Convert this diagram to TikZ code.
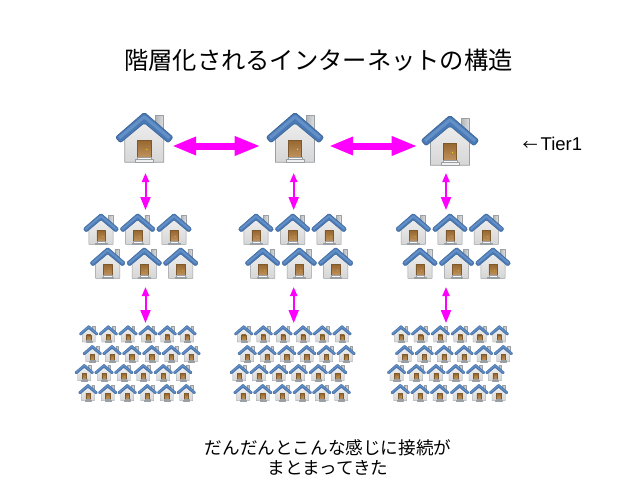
\documentclass[tikz,border=0pt]{standalone}
\usepackage{fontspec}
\setmainfont{Liberation Sans}
\newfontfamily\jpfont{Noto Sans CJK JP}
\usetikzlibrary{arrows.meta}
\definecolor{roofblue}{HTML}{4A7AB6}
\definecolor{roofdark}{HTML}{41699C}
\definecolor{rooflight}{HTML}{6490C8}
\definecolor{wallgray}{HTML}{9A9FA3}
\definecolor{doorbrown}{HTML}{B27A38}
\definecolor{doordark}{HTML}{7D5A2E}
\definecolor{linkpink}{HTML}{FF00FF}
\tikzset{
	house/.pic={
		\begin{scope}[scale=#1,line width=#1*0.8pt,line join=round]
			\draw[draw=wallgray,left color=wallgray!75,right color=wallgray!35] (11.5,22) -- (11.5,3) -- (19,3) -- (19,22) -- cycle;
			\draw[draw=wallgray,top color=black!6,bottom color=black!16] (-19.5,50) -- (-19.5,24) -- (0,6) -- (19.5,24) -- (19.5,50) -- cycle;
			\draw[draw=doordark,top color=doorbrown!85!black,bottom color=doorbrown!80!white] (-6.5,46) rectangle (6.8,28);
			\fill[yellow!70!orange] (2.5,37) circle (0.7);
			\draw[draw=wallgray,fill=black!6] (-9,50) rectangle (9.5,47.5);
			\draw[draw=wallgray,fill=black!3] (-6.5,47.5) rectangle (7,45.5);
			\draw[draw=roofdark,fill=roofblue,rounded corners=#1*2pt] (0,0) -- (28.8,25) -- (24,30.5) -- (0,10.5) -- (-24,30.5) -- (-28.8,25) -- cycle;
			\draw[rooflight,line width=#1*3pt] (-25,25.5) -- (0,4.5) -- (25,25.5);
		\end{scope}
	}
}
\tikzstyle{bigarrow}=[linkpink,line width=7pt,{Triangle[length=24pt,width=17pt]}-{Triangle[length=26pt,width=18pt]}]
\tikzstyle{smallarrow}=[linkpink,line width=2pt,{Triangle[length=9pt,width=7pt]}-{Triangle[length=13pt,width=10pt]}]
\tikzstyle{titletext}=[font=\jpfont\fontsize{24.3pt}{29pt}\selectfont,inner sep=0pt]
\tikzstyle{bodytext}=[font=\jpfont\fontsize{17.6pt}{20.5pt}\selectfont,inner sep=0pt,align=center]
\begin{document}
\begin{tikzpicture}[x=1pt,y=-1pt]
	\useasboundingbox (0,0) rectangle (638,479);

	\node[titletext] (title) at (318.5,60) {階層化されるインターネットの構造};
	\node[inner sep=0pt,anchor=west,font=\fontsize{18.5pt}{22pt}\selectfont] (tier) at (522.5,144) {{\jpfont\fontsize{15pt}{22pt}\selectfont ←}\hspace{3pt}Tier1};

	% top row
	\foreach \name/\x/\y in {big1/144.3/112.3,big2/295/112.3,big3/450/115.3}{
		\coordinate (\name) at (\x,\y);
		\pic at (\name) {house=1};
	}

	% middle and bottom groups
	\foreach \dx in {0,155,312.3}{
		\foreach \x in {101,137.7,174}
			\pic at (\x+\dx,213.3) {house=0.62};
		\foreach \x in {107.7,144.3,180.7}
			\pic at (\x+\dx,247.3) {house=0.62};
		\foreach \x in {88.7,108.3,128,148,167.3,187}
			\pic at (\x+\dx,325.3) {house=0.335};
		\foreach \x in {92.3,112,131.7,151.7,171.3,191}
			\pic at (\x+\dx,345) {house=0.335};
		\foreach \x in {84.3,104,123.7,143.3,163.3,182.7}
			\pic at (\x+\dx,364) {house=0.335};
		\foreach \x in {88,107.7,127.3,147.3,166.7,186.3}
			\pic at (\x+\dx,384) {house=0.335};
	}

	\coordinate (h1a) at (172,146);
	\coordinate (h1b) at (260.5,146);
	\coordinate (h2a) at (329,146);
	\coordinate (h2b) at (417.5,146);
	\draw[bigarrow] (h1a) -- (h1b);
	\draw[bigarrow] (h2a) -- (h2b);

	\foreach \name/\x in {a/145.5,b/293.7,c/446}{
		\coordinate (\name1) at (\x,173);
		\coordinate (\name2) at (\x,210);
		\coordinate (\name3) at (\x,287);
		\coordinate (\name4) at (\x,323);
		\draw[smallarrow] (\name1) -- (\name2);
		\draw[smallarrow] (\name3) -- (\name4);
	}

	\node[bodytext] (note) at (328,457.5) {だんだんとこんな感じに接続が\\まとまってきた};
\end{tikzpicture}
\end{document}
